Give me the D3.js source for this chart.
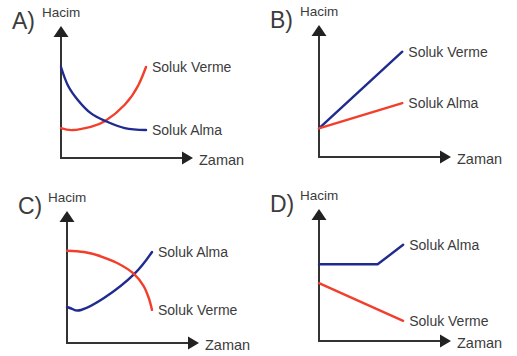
<!DOCTYPE html>
<html>
<head>
<meta charset="utf-8">
<script src="https://cdn.jsdelivr.net/npm/d3@7"></script>
<style>
  body { margin: 0; background: #fff; }
  text { font-family: "Liberation Sans", Arial, sans-serif; fill: #3c3c3c; }
</style>
</head>
<body>
<svg id="chart" width="517" height="356"></svg>
<script>
// Data (time 0-10, volume 0-10)
const panelNames = ["A)", "B)", "C)", "D)"];
const axisLabels = ["Hacim", "Zaman"];

const almaA = [[0,7.0],[0.8,5.6],[2,4.45],[3.5,3.45],[5.2,2.85],[7.5,2.3],[10,2.15]];
const vermeA = [[0,2.3],[1.4,2.15],[3.5,2.4],[5.2,2.85],[7.5,4.1],[9.1,5.6],[10,7.0]];

const vermeB = [[0,2.2],[9.8,8.1]];
const almaB = [[0,2.2],[9.8,4.15]];

const vermeC = [[0,7.1],[2,7.0],[3.5,6.77],[5.9,6.15],[7.9,5.3],[9.0,4.4],[9.6,3.5],[10,2.55]];
const almaC = [[0,2.77],[0.7,2.6],[1.65,2.54],[4.35,3.46],[7.9,5.3],[10,7.0]];

const almaD = [[0,5.9],[6.9,5.9],[9.9,7.4]];
const vermeD = [[0,4.45],[9.9,1.55]];

const blue = "#1f2b8e";
const red = "#f23f2c";

// Panels: origin of each axis pair, series with end labels
const smooth = d3.curveNatural;
const panels = [
  { name: panelNames[0], ox: 61, oy: 158, series: [
      { data: vermeA, color: red, label: "Soluk Verme", curve: smooth },
      { data: almaA, color: blue, label: "Soluk Alma", curve: smooth } ] },
  { name: panelNames[1], ox: 319, oy: 157, series: [
      { data: vermeB, color: blue, label: "Soluk Verme", curve: d3.curveLinear },
      { data: almaB, color: red, label: "Soluk Alma", curve: d3.curveLinear } ] },
  { name: panelNames[2], ox: 67, oy: 343, series: [
      { data: almaC, color: blue, label: "Soluk Alma", curve: smooth },
      { data: vermeC, color: red, label: "Soluk Verme", curve: d3.curveCatmullRom.alpha(0.5) } ] },
  { name: panelNames[3], ox: 319, oy: 341, series: [
      { data: almaD, color: blue, label: "Soluk Alma", curve: d3.curveLinear },
      { data: vermeD, color: red, label: "Soluk Verme", curve: d3.curveLinear } ] }
];

const svg = d3.select("#chart");
const axisLen = 132;

panels.forEach(p => {
  const x = d3.scaleLinear().domain([0, 10]).range([p.ox, p.ox + 85]);
  const y = d3.scaleLinear().domain([0, 10]).range([p.oy, p.oy - 130]);
  const g = svg.append("g");

  // axes
  const top = p.oy - axisLen, right = p.ox + axisLen;
  g.append("line").attr("x1", p.ox).attr("y1", p.oy + 1).attr("x2", p.ox).attr("y2", top + 8)
    .attr("stroke", "#333").attr("stroke-width", 2);
  g.append("line").attr("x1", p.ox - 1).attr("y1", p.oy).attr("x2", right - 8).attr("y2", p.oy)
    .attr("stroke", "#333").attr("stroke-width", 2);
  g.append("path").attr("d", `M${p.ox},${top} L${p.ox + 7.5},${top + 11} L${p.ox - 7.5},${top + 11} Z`)
    .attr("fill", "#222");
  g.append("path").attr("d", `M${right},${p.oy} L${right - 11},${p.oy - 6.5} L${right - 11},${p.oy + 6.5} Z`)
    .attr("fill", "#222");

  // texts
  g.append("text").attr("x", p.ox - 49).attr("y", top + 3).attr("font-size", 23).text(p.name);
  g.append("text").attr("x", p.ox - 19).attr("y", top - 9).attr("font-size", 13.5).text(axisLabels[0]);
  g.append("text").attr("x", right + 6).attr("y", p.oy + 7).attr("font-size", 14.5).text(axisLabels[1]);

  // series
  p.series.forEach(s => {
    const line = d3.line().x(d => x(d[0])).y(d => y(d[1])).curve(s.curve);
    g.append("path").datum(s.data).attr("d", line)
      .attr("fill", "none").attr("stroke", s.color).attr("stroke-width", 2.4)
      .attr("stroke-linejoin", "round").attr("stroke-linecap", "round");
    const last = s.data[s.data.length - 1];
    g.append("text").attr("x", x(last[0]) + 6).attr("y", y(last[1]) + 5)
      .attr("font-size", 14).text(s.label);
  });
});
</script>
</body>
</html>
